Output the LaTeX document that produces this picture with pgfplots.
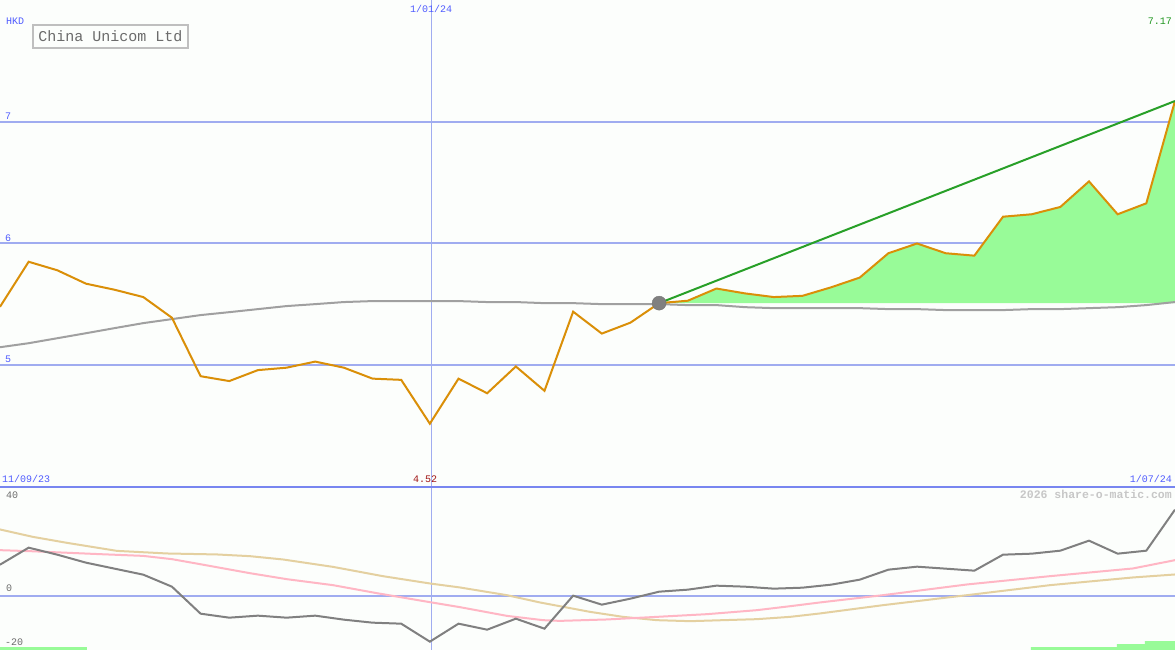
\documentclass[border=0pt]{standalone}
\usepackage{pgfplots}
\pgfplotsset{compat=1.18}
\usepackage{fontspec}
\setmainfont{Liberation Mono}

\definecolor{bgcol}{RGB}{252,254,252}
\definecolor{pricecol}{RGB}{218,143,8}
\definecolor{trendcol}{RGB}{40,160,40}
\definecolor{gaincol}{RGB}{152,251,152}
\definecolor{macol}{RGB}{160,160,160}
\definecolor{osccol}{RGB}{128,128,128}
\definecolor{pinkcol}{RGB}{255,182,196}
\definecolor{tancol}{RGB}{228,208,160}
\definecolor{gridcol}{RGB}{160,172,240}
\definecolor{sepcol}{RGB}{120,134,240}
\definecolor{labcol}{RGB}{80,92,255}
\definecolor{lowcol}{RGB}{160,20,20}
\definecolor{highcol}{RGB}{30,150,30}

% weekly closes, x = week index (0 = 11/09/23, 15 = 1/01/24, 41 = 1/07/24)
\newcommand\pricedata{(0,5.48)(1,5.85)(2,5.78)(3,5.67)(4,5.62)(5,5.56)(6,5.39)(7,4.91)(8,4.87)(9,4.96)
(10,4.98)(11,5.03)(12,4.98)(13,4.89)(14,4.88)(15,4.52)(16,4.89)(17,4.77)(18,4.99)(19,4.79)
(20,5.44)(21,5.26)(22,5.35)(23,5.51)(24,5.53)(25,5.63)(26,5.59)(27,5.56)(28,5.57)(29,5.64)
(30,5.72)(31,5.92)(32,6.00)(33,5.92)(34,5.90)(35,6.22)(36,6.24)(37,6.30)(38,6.51)(39,6.24)
(40,6.33)(41,7.17)}

\begin{document}
\begin{tikzpicture}[font=\fontsize{10}{12}\selectfont]
\path[use as bounding box, fill=bgcol] (0pt,0pt) rectangle (1175pt,650pt);

% ---------- price panel ----------
\begin{axis}[at={(0pt,163pt)}, anchor=south west, scale only axis,
    width=1175pt, height=487pt, xmin=0, xmax=41, ymin=4, ymax=8,
    axis lines=none, clip=true]
  \draw[gridcol, line width=2pt] (axis cs:0,5) -- (axis cs:41,5);
  \draw[gridcol, line width=2pt] (axis cs:0,6) -- (axis cs:41,6);
  \draw[gridcol, line width=2pt] (axis cs:0,7) -- (axis cs:41,7);
  \draw[gridcol, line width=1pt] (axis cs:15.04,4) -- (axis cs:15.04,8);
  % gain area above the start price
  \addplot[fill=gaincol, draw=none] coordinates {
    (23,5.51)(24,5.53)(25,5.63)(26,5.59)(27,5.56)(28,5.57)(29,5.64)(30,5.72)(31,5.92)(32,6.00)
    (33,5.92)(34,5.90)(35,6.22)(36,6.24)(37,6.30)(38,6.51)(39,6.24)(40,6.33)(41,7.17)(41,5.51)};
  % moving average
  \addplot[macol, line width=2pt] coordinates {
    (0,5.148)(1,5.181)(2,5.222)(3,5.263)(4,5.305)(5,5.346)(6,5.379)(7,5.412)(8,5.436)(9,5.461)
    (10,5.486)(11,5.502)(12,5.519)(13,5.527)(14,5.527)(15,5.527)(16,5.527)(17,5.519)(18,5.519)
    (19,5.510)(20,5.510)(21,5.502)(22,5.502)(23,5.502)(24,5.494)(25,5.494)(26,5.477)(27,5.469)
    (28,5.469)(29,5.469)(30,5.469)(31,5.461)(32,5.461)(33,5.453)(34,5.453)(35,5.453)(36,5.461)
    (37,5.461)(38,5.469)(39,5.477)(40,5.494)(41,5.519)};
  \addplot[only marks, mark=*, mark size=7pt, color=osccol!90!black, fill=osccol] coordinates {(23,5.51)};
  \addplot[pricecol, line width=2pt] coordinates {\pricedata};
  \addplot[trendcol, line width=2pt] coordinates {(23,5.51)(41,7.17)};
\end{axis}

% ---------- oscillator panel ----------
\begin{axis}[at={(0pt,0pt)}, anchor=south west, scale only axis,
    width=1175pt, height=163pt, xmin=0, xmax=41, ymin=-20, ymax=40,
    axis lines=none, clip=true]
  \draw[gridcol, line width=2pt] (axis cs:0,0) -- (axis cs:41,0);
  \draw[gridcol, line width=1pt] (axis cs:15.04,-20) -- (axis cs:15.04,40);
  \addplot[fill=gaincol, draw=none] coordinates {(0,-20)(0,-18.9)(3.04,-18.9)(3.04,-20)};
  \addplot[fill=gaincol, draw=none] coordinates {
    (35.97,-20)(35.97,-18.9)(38.97,-18.9)(38.97,-17.8)(39.95,-17.8)(39.95,-16.7)(41,-16.7)(41,-20)};
  \addplot[tancol, line width=2pt] coordinates {
    (0,24.37)(1.15,21.64)(2.34,19.44)(4.08,16.49)(5.83,15.53)(7.57,15.17)(8.72,14.54)(9.87,13.33)
    (11.62,10.60)(13.36,7.18)(15,4.49)(16.05,3.02)(17.69,0.18)(18.84,-2.50)(20.59,-5.96)
    (21.74,-7.80)(22.92,-9.02)(24.08,-9.39)(25.23,-9.02)(26.41,-8.65)(27.57,-7.80)(28.61,-6.55)
    (30.81,-3.50)(33.74,0.18)(36.64,3.87)(39.53,6.70)(41,7.80)};
  \addplot[pinkcol, line width=2pt] coordinates {
    (0,16.75)(1.05,16.38)(3.49,15.28)(4.99,14.65)(6,13.44)(6.98,11.60)(8.72,8.28)(10.01,6.07)
    (11.62,3.87)(13.15,0.92)(15,-2.39)(16.05,-4.23)(17.69,-7.44)(18.95,-9.02)(19.54,-9.28)
    (21.18,-8.76)(22.92,-7.80)(24.67,-6.81)(26.41,-5.34)(27.67,-3.75)(28.61,-2.50)(30.81,0.18)
    (33.74,4.12)(36.64,7.18)(39.53,10.01)(41,13.07)};
  \addplot[osccol, line width=2pt] coordinates {
    (0,11.41)(1,17.67)(2,15.09)(3,12.15)(4,9.94)(5,7.73)(6,3.31)(7,-6.63)(8,-8.10)(9,-7.36)
    (10,-8.10)(11,-7.36)(12,-8.83)(13,-9.94)(14,-10.31)(15,-16.93)(16,-10.31)(17,-12.52)
    (18,-8.47)(19,-12.15)(20,0)(21,-3.31)(22,-1.10)(23,1.47)(24,2.21)(25,3.68)(26,3.31)
    (27,2.58)(28,2.94)(29,4.05)(30,5.89)(31,9.57)(32,10.67)(33,9.94)(34,9.20)(35,15.09)
    (36,15.46)(37,16.56)(38,20.25)(39,15.46)(40,16.56)(41,31.66)};
\end{axis}

\draw[sepcol, line width=2pt] (0pt,163pt) -- (1175pt,163pt);

% labels
\node[anchor=base west, labcol, inner sep=0pt] at (6pt,625pt) {HKD};
\node[anchor=base west, labcol, inner sep=0pt] at (5pt,530pt) {7};
\node[anchor=base west, labcol, inner sep=0pt] at (5pt,408pt) {6};
\node[anchor=base west, labcol, inner sep=0pt] at (5pt,287pt) {5};
\node[anchor=base, labcol, inner sep=0pt] at (431pt,637pt) {1/01/24};
\node[anchor=base east, highcol, inner sep=0pt] at (1172pt,625pt) {7.17};
\node[anchor=base west, labcol, inner sep=0pt] at (2pt,167pt) {11/09/23};
\node[anchor=base, lowcol, inner sep=0pt] at (425pt,167pt) {4.52};
\node[anchor=base east, labcol, inner sep=0pt] at (1172pt,167pt) {1/07/24};
\node[anchor=base west, osccol!85!black, inner sep=0pt] at (6pt,151pt) {40};
\node[anchor=base west, osccol!85!black, inner sep=0pt] at (6pt,58pt) {0};
\node[anchor=base west, osccol!85!black, inner sep=0pt] at (5pt,4pt) {-20};
\node[anchor=base east, black!22, inner sep=0pt, font=\fontsize{11.5}{13}\selectfont\bfseries]
  at (1172pt,151pt) {2026 share-o-matic.com};
\draw[black!25, line width=2pt] (33pt,602pt) rectangle (188pt,625pt);
\node[black!58, inner sep=0pt, font=\fontsize{15}{17}\selectfont] at (110.5pt,613.5pt) {China Unicom Ltd};
\end{tikzpicture}
\end{document}
